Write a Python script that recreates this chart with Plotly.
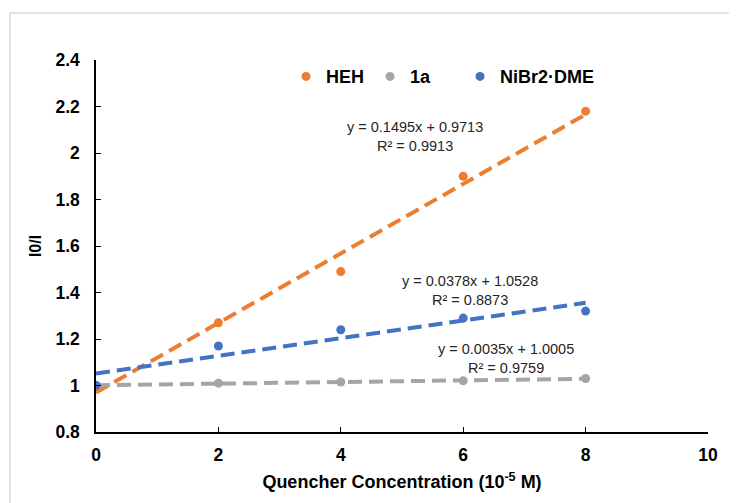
import numpy as np
import plotly.graph_objects as go

conc = [0, 2, 4, 6, 8]
heh = [1.0, 1.27, 1.49, 1.90, 2.18]
one_a = [1.0, 1.01, 1.015, 1.02, 1.03]
nibr = [1.0, 1.17, 1.24, 1.29, 1.32]

names = ["HEH", "1a", "NiBr2·DME"]
colors = ["#ED7D31", "#A5A5A5", "#4472C4"]
eq_text = [
    "y = 0.1495x + 0.9713<br>R² = 0.9913",
    "y = 0.0035x + 1.0005<br>R² = 0.9759",
    "y = 0.0378x + 1.0528<br>R² = 0.8873",
]
eq_pos = [(5.21, 2.071), (6.70, 1.114), (6.11, 1.409)]
legend_x = [0.3105, 0.4477, 0.5948]
legend_ids = ["legend", "legend2", "legend3"]

FONT = "Arial, Liberation Sans, sans-serif"
fig = go.Figure()
series = [heh, one_a, nibr]

# trendlines (least-squares fit of the data)
xs = np.array([0, 8])
for ys, c in zip(series, colors):
    k, b = np.polyfit(conc, ys, 1)
    fig.add_trace(go.Scatter(x=xs, y=k * xs + b, mode="lines", showlegend=False,
                             line=dict(color=c, width=4, dash="14px,7px"),
                             hoverinfo="skip"))
for ys, n, c, lg in zip(series, names, colors, legend_ids):
    fig.add_trace(go.Scatter(x=conc, y=ys, mode="markers", name=n, legend=lg,
                             marker=dict(color=c, size=9)))

for (t, (ax, ay)) in zip(eq_text, eq_pos):
    fig.add_annotation(x=ax, y=ay, text=t, showarrow=False,
                       font=dict(family=FONT, size=14.5, color="#262626"), align="center")

# outer chart border
fig.add_shape(type="rect", xref="paper", yref="paper",
              x0=-0.1405, x1=1.06, y0=-0.2, y1=1.1263,
              line=dict(color="#D9D9D9", width=1.5), layer="below")

legend_style = dict(orientation="h", y=0.955, xanchor="left", yanchor="middle",
                    font=dict(family=FONT, size=18, color="#000000", weight="bold"),
                    itemwidth=30, bgcolor="rgba(0,0,0,0)")
fig.update_layout(
    width=729, height=495,
    margin=dict(l=88, r=29, t=52, b=71),
    paper_bgcolor="white", plot_bgcolor="white",
    font=dict(family=FONT, color="#000000"),
    showlegend=True,
)
for lg, lx in zip(legend_ids, legend_x):
    fig.update_layout({lg: dict(x=lx, **legend_style)})

fig.update_xaxes(range=[0, 10], tickvals=[0, 2, 4, 6, 8, 10], showgrid=False, zeroline=False,
                 showline=True, linecolor="#000000", linewidth=1.5,
                 ticks="inside", ticklen=5, tickcolor="#000000", tickwidth=1.2,
                 ticklabelstandoff=6,
                 tickfont=dict(family=FONT, size=17.5, weight="bold"),
                 title=dict(text="Quencher Concentration (10<sup>-5</sup> M)",
                            font=dict(family=FONT, size=18, weight="bold"), standoff=12))
fig.update_yaxes(range=[0.8, 2.4], dtick=0.2, tick0=0.8, showgrid=False, zeroline=False,
                 showline=True, linecolor="#000000", linewidth=1.5,
                 ticks="inside", ticklen=5, tickcolor="#000000", tickwidth=1.2,
                 ticklabelstandoff=11,
                 tickfont=dict(family=FONT, size=17.5, weight="bold"),
                 title=dict(text="I0/I", font=dict(family=FONT, size=16, weight="bold"), standoff=10))

fig.write_html("out.html")
